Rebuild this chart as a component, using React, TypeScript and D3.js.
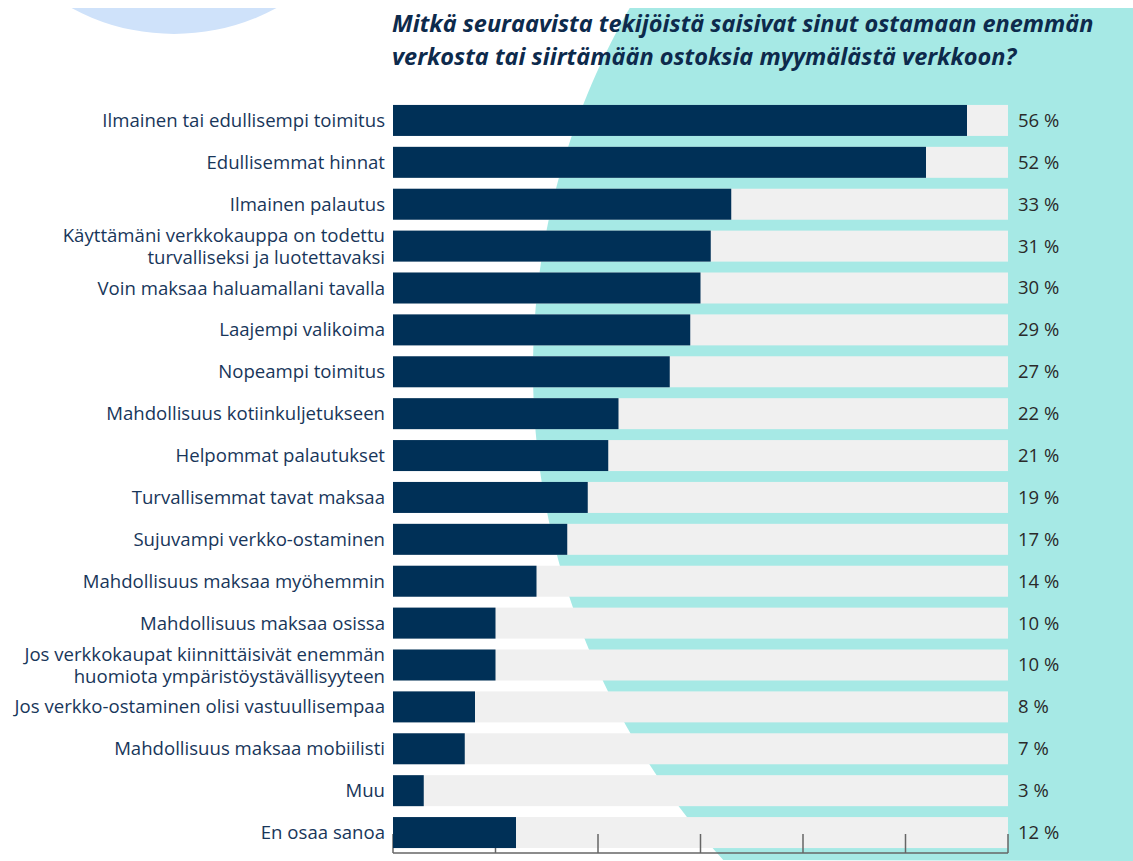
import React, { useEffect } from "react";
import * as d3 from "d3";

const categories: string[][] = [
  ["Ilmainen tai edullisempi toimitus"],
  ["Edullisemmat hinnat"],
  ["Ilmainen palautus"],
  ["Käyttämäni verkkokauppa on todettu", "turvalliseksi ja luotettavaksi"],
  ["Voin maksaa haluamallani tavalla"],
  ["Laajempi valikoima"],
  ["Nopeampi toimitus"],
  ["Mahdollisuus kotiinkuljetukseen"],
  ["Helpommat palautukset"],
  ["Turvallisemmat tavat maksaa"],
  ["Sujuvampi verkko-ostaminen"],
  ["Mahdollisuus maksaa myöhemmin"],
  ["Mahdollisuus maksaa osissa"],
  ["Jos verkkokaupat kiinnittäisivät enemmän", "huomiota ympäristöystävällisyyteen"],
  ["Jos verkko-ostaminen olisi vastuullisempaa"],
  ["Mahdollisuus maksaa mobiilisti"],
  ["Muu"],
  ["En osaa sanoa"],
];
const values: number[] = [56, 52, 33, 31, 30, 29, 27, 22, 21, 19, 17, 14, 10, 10, 8, 7, 3, 12];
const tickValues: number[] = [0, 10, 20, 30, 40, 50, 60];
const titleLines: string[] = [
  "Mitkä seuraavista tekijöistä saisivat sinut ostamaan enemmän",
  "verkosta tai siirtämään ostoksia myymälästä verkkoon?",
];

const W = 1133;
const H = 861;
const NAVY = "#003057";
const TRACK = "#f0f0f0";
const CYAN = "#a6e9e5";
const LIGHTBLUE = "#cfe2fa";
const LABEL = "#18365a";

export default function App() {
  useEffect(() => {
    document.body.style.margin = "0";
  }, []);

  const ids = categories.map((_, i) => String(i));
  const x = d3.scaleLinear().domain([0, 60]).range([393, 1008]);
  const y = d3.scaleBand<string>().domain(ids).range([99.5, 853.5]).paddingInner(0.26).paddingOuter(0.13);
  const bw = y.bandwidth();
  const axisY = 853;

  // background cyan shape: region to the right of a large circle
  const cx = 1259, cy = 370, R = 726;
  const arcPts: [number, number][] = d3.range(8, H + 1, 4).map((yy) => {
    const dy = yy - cy;
    return [cx - Math.sqrt(Math.max(R * R - dy * dy, 0)), yy];
  });
  const cyanPath =
    d3.line()(arcPts.concat([[W, H], [W, 8]] as [number, number][])) + "Z";

  return (
    <svg width={W} height={H} style={{ position: "absolute", left: 0, top: 0, background: "#fff" }}>
      <path d={cyanPath} fill={CYAN} />
      <clipPath id="topclip">
        <rect x={0} y={8} width={W} height={H} />
      </clipPath>
      <circle cx={174} cy={-181} r={215} fill={LIGHTBLUE} clipPath="url(#topclip)" />

      {titleLines.map((t, i) => (
        <text
          key={i}
          x={392}
          y={32 + i * 32.5}
          fontFamily="'Open Sans', sans-serif"
          fontStyle="italic"
          fontWeight={700}
          fontSize={23.5}
          fill="#0d2a4c"
        >
          {t}
        </text>
      ))}

      {ids.map((id) => (
        <rect key={"t" + id} x={x(0)} y={y(id)} width={x(60) - x(0)} height={bw} fill={TRACK} />
      ))}

      {tickValues.map((v) => (
        <line key={"k" + v} x1={x(v)} x2={x(v)} y1={axisY - 19} y2={axisY} stroke="#666" strokeWidth={1.5} />
      ))}
      <line x1={x(0)} x2={x(60)} y1={axisY} y2={axisY} stroke="#666" strokeWidth={1.5} />

      {ids.map((id, i) => (
        <rect key={"b" + id} x={x(0)} y={y(id)} width={x(values[i]) - x(0)} height={bw} fill={NAVY} />
      ))}

      {ids.map((id, i) => {
        const lines = categories[i];
        const c = (y(id) as number) + bw / 2;
        const lh = 22;
        return lines.map((ln, j) => (
          <text
            key={"l" + id + "-" + j}
            x={385}
            y={c + (j - (lines.length - 1) / 2) * lh}
            dy="0.35em"
            textAnchor="end"
            fontFamily="'Open Sans', sans-serif"
            fontSize={18.6}
            fontWeight={500}
            fill={LABEL}
          >
            {ln}
          </text>
        ));
      })}

      {ids.map((id, i) => (
        <text
          key={"v" + id}
          x={1018}
          y={(y(id) as number) + bw / 2}
          dy="0.35em"
          fontFamily="'Liberation Sans Narrow', 'Open Sans', sans-serif"
          fontSize={18.5}
          fill="#2a2a2a"
        >
          {values[i] + " %"}
        </text>
      ))}
    </svg>
  );
}
